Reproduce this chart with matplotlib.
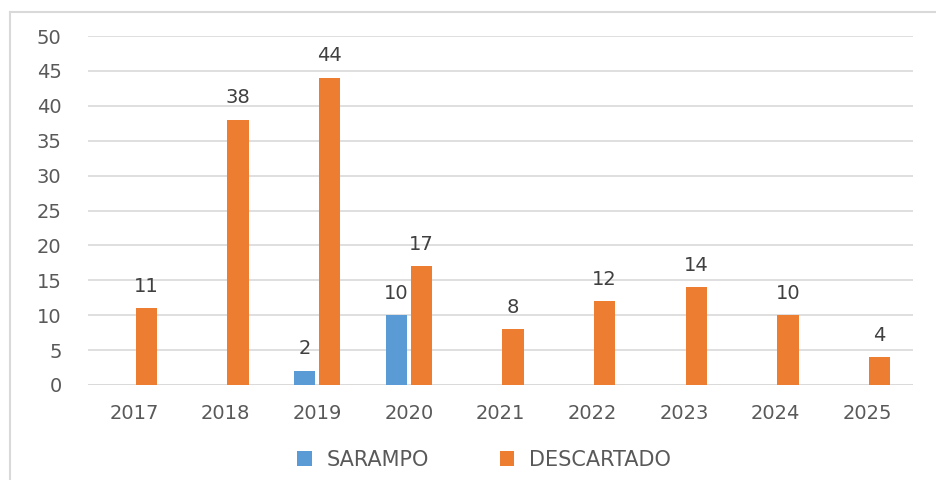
import numpy as np
import matplotlib.pyplot as plt
from matplotlib.lines import Line2D

years = ['2017', '2018', '2019', '2020', '2021', '2022', '2023', '2024', '2025']
sarampo = [0, 0, 2, 10, 0, 0, 0, 0, 0]
descartado = [11, 38, 44, 17, 8, 12, 14, 10, 4]

blue = '#5B9BD5'
orange = '#ED7D31'
txt = '#595959'

plt.rcParams['font.family'] = ['DejaVu Sans']

fig = plt.figure(figsize=(9.37, 4.8), dpi=100)
ax = fig.add_axes([88/937, 1 - 385/480, (913-88)/937, (385-36)/480])

x = np.arange(len(years))
w = 0.23
off = 0.136
b1 = ax.bar(x - off, sarampo, w, color=blue, label='SARAMPO')
b2 = ax.bar(x + off, descartado, w, color=orange, label='DESCARTADO')

for bars, vals in ((b1, sarampo), (b2, descartado)):
    for r, v in zip(bars, vals):
        if v:
            ax.text(r.get_x() + r.get_width()/2, v + 1.8, str(v), ha='center', va='bottom',
                    fontsize=14, color='#404040')

ax.set_xlim(-0.5, len(years) - 0.5)
ax.set_ylim(0, 50)
ax.set_yticks(range(0, 51, 5))
ax.set_xticks(x)
ax.set_xticklabels(years)
ax.yaxis.grid(True, color='#D9D9D9', linewidth=1.2)
ax.set_axisbelow(True)
for s in ax.spines.values():
    s.set_visible(False)
ax.axhline(0, color='#D9D9D9', linewidth=1.2, zorder=0.5)
ax.tick_params(length=0, labelsize=14, labelcolor=txt)
ax.tick_params(axis='y', pad=19)
ax.tick_params(axis='x', pad=14)

ax.legend(loc='center', bbox_to_anchor=(0.48, -0.215), ncol=2, frameon=False,
          fontsize=15, labelcolor=txt, handlelength=0.7, handleheight=0.7,
          columnspacing=3.4, handletextpad=0.7)

# outer border (top and left edges visible)
fig.add_artist(Line2D([10/937, 10/937], [0, 1 - 12/480], color='#D9D9D9', linewidth=1.5))
fig.add_artist(Line2D([10/937, 1], [1 - 12/480, 1 - 12/480], color='#D9D9D9', linewidth=1.5))

fig.savefig('out.png', dpi=100)
